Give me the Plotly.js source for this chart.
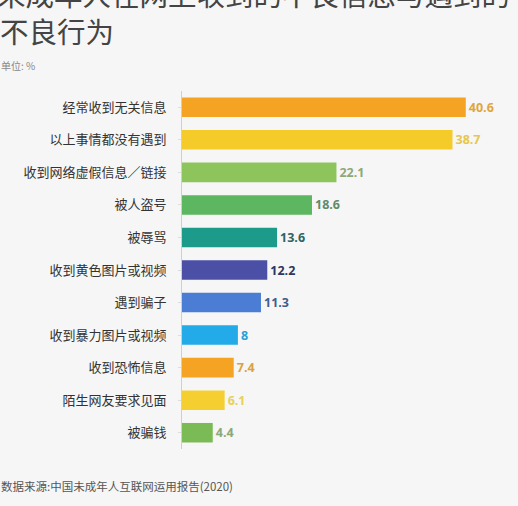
<!DOCTYPE html>
<html><head><meta charset="utf-8">
<script src="https://cdn.plot.ly/plotly-3.0.1.min.js"></script>
<style>html,body{margin:0;padding:0;background:#f6f6f6;}#chart{width:518px;height:506px;}</style>
</head><body><div id="chart"></div>
<script>
const categories = ["经常收到无关信息","以上事情都没有遇到","收到网络虚假信息／链接","被人盗号","被辱骂","收到黄色图片或视频","遇到骗子","收到暴力图片或视频","收到恐怖信息","陌生网友要求见面","被骗钱"];
const values = [40.6,38.7,22.1,18.6,13.6,12.2,11.3,8,7.4,6.1,4.4];
const valueLabels = ["40.6","38.7","22.1","18.6","13.6","12.2","11.3","8","7.4","6.1","4.4"];
const barColors = ["#f4a322","#f5cb2a","#8ec45c","#5db660","#1c9a8a","#4b4fa6","#4a7dd3","#22abe8","#f4a322","#f5cf30","#7bbb55"];
const labelColors = ["#dfa63a","#e6c64e","#8fa878","#5f8a6c","#2e6464","#2d3560","#3f5e8c","#2a9fd6","#d9a244","#e8d05a","#8aa87a"];

const cjk = '"Noto Sans CJK SC", "Noto Sans", sans-serif';
const PW = 322, PH = 358, ML = 182, MT = 91;
const trace = {
  type: 'bar', orientation: 'h',
  x: values, y: categories,
  marker: {color: barColors, line: {width: 0}},
  text: valueLabels, textposition: 'outside', cliponaxis: false, constraintext: 'none',
  textfont: {family: '"Open Sans", sans-serif', size: 12.5, weight: 700, color: labelColors},
  hoverinfo: 'none'
};
const layout = {
  width: 518, height: 506,
  paper_bgcolor: '#f6f6f6', plot_bgcolor: '#f6f6f6',
  margin: {l: ML, r: 14, t: MT, b: 57},
  bargap: 0.4,
  showlegend: false,
  xaxis: {range: [0, 46.07], visible: false, fixedrange: true},
  yaxis: {type: 'category', autorange: 'reversed', showline: true, linecolor: '#cfcfcf', linewidth: 1,
          ticks: 'outside', ticklen: 3, tickcolor: '#dddddd', showgrid: false, zeroline: false,
          ticklabelstandoff: 9,
          tickfont: {family: cjk, size: 13, color: '#333333'}},
  annotations: [
    {text: '未成年人在网上收到的不良信息与遇到的', xref: 'paper', yref: 'paper', x: -ML/PW, y: 1 + (MT-16)/PH, xanchor: 'left', yanchor: 'bottom', showarrow: false, xshift: -5,
     font: {family: cjk, size: 28.5, color: '#444444'}},
    {text: '不良行为', xref: 'paper', yref: 'paper', x: -ML/PW, y: 1 + (MT-53)/PH, xanchor: 'left', yanchor: 'bottom', showarrow: false, xshift: -2,
     font: {family: cjk, size: 28.5, color: '#444444'}},
    {text: '单位: %', xref: 'paper', yref: 'paper', x: -ML/PW, y: 1 + (MT-75)/PH, xanchor: 'left', yanchor: 'bottom', showarrow: false, xshift: -1,
     font: {family: cjk, size: 10, color: '#888888'}},
    {text: '数据来源:中国未成年人互联网运用报告(2020)', xref: 'paper', yref: 'paper', x: -ML/PW, y: -(476-449)/PH, xanchor: 'left', yanchor: 'top', showarrow: false, xshift: -1,
     font: {family: cjk, size: 11.5, color: '#555555'}}
  ]
};
Plotly.newPlot('chart', [trace], layout, {displayModeBar: false, staticPlot: true});
</script></body></html>
